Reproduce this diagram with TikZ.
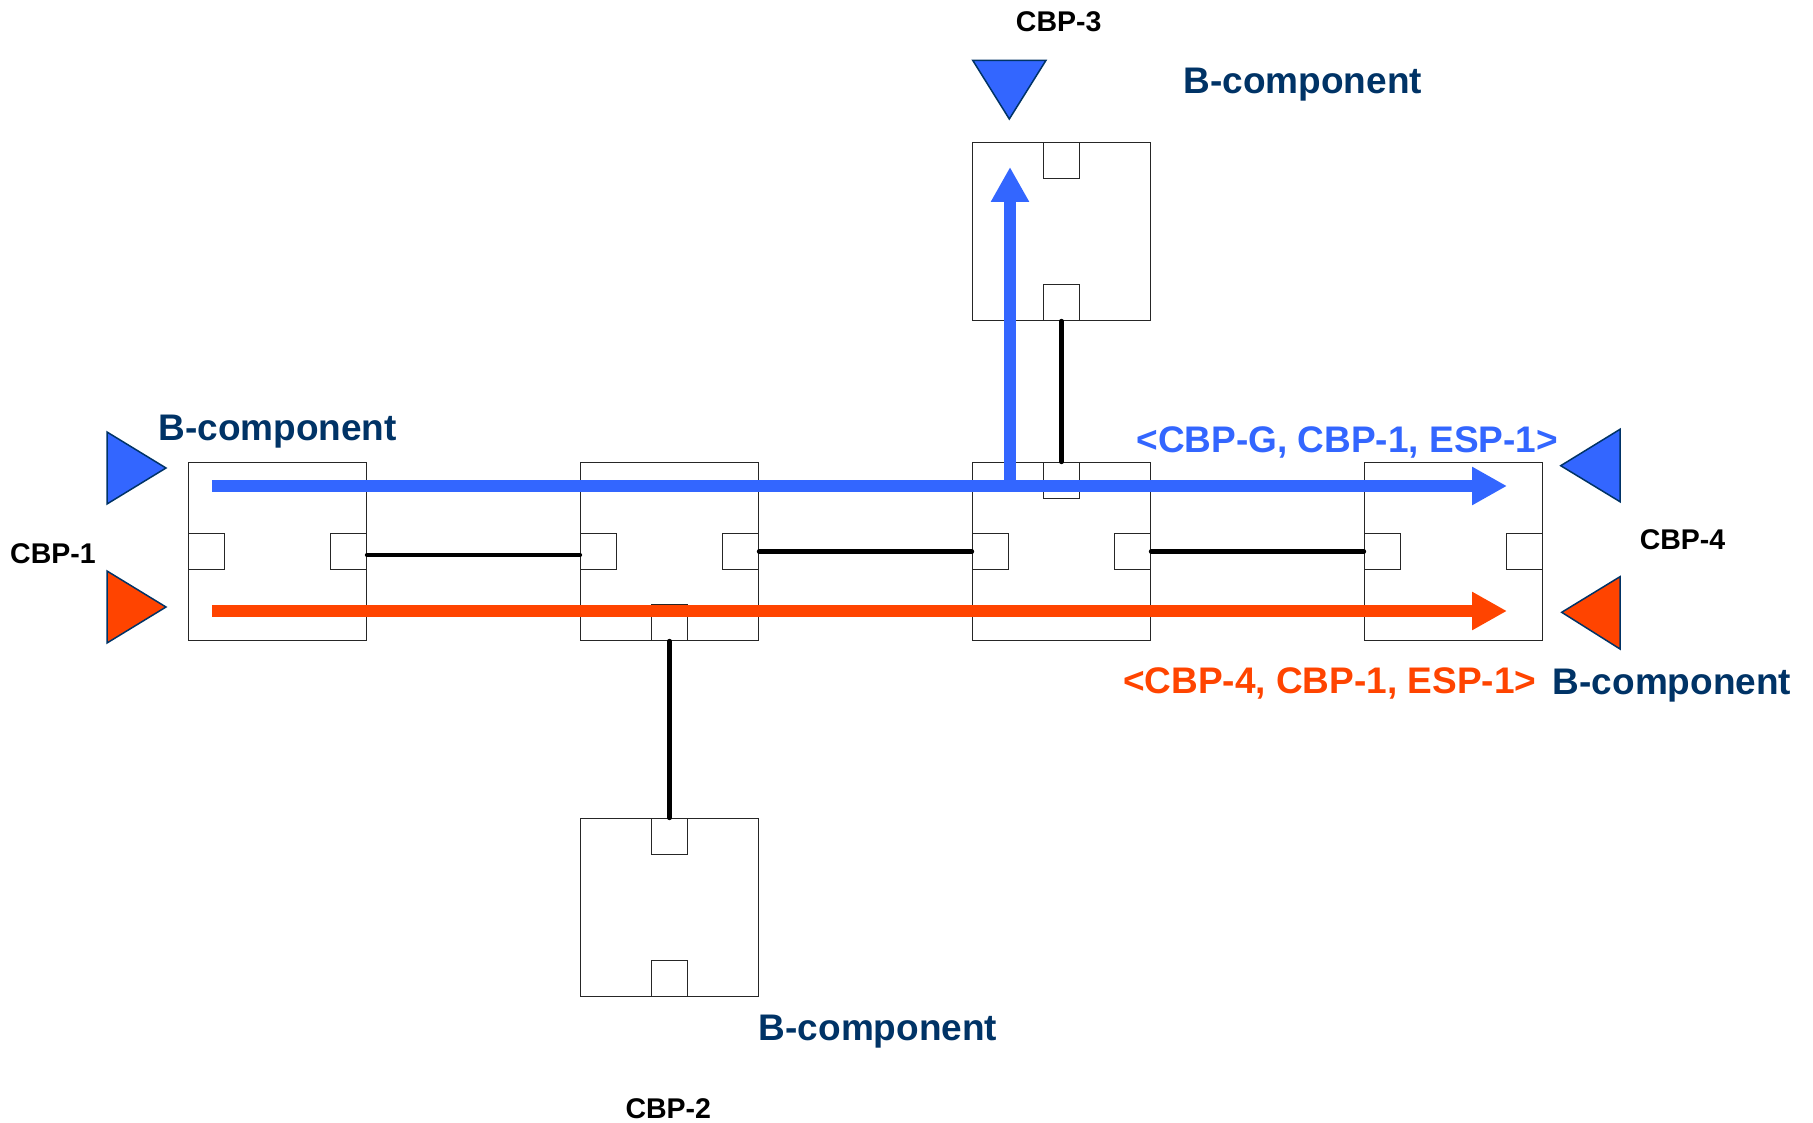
\documentclass[tikz,border=0pt]{standalone}
\usepackage{xcolor}
\usepackage{fontspec}
\setmainfont{Liberation Sans}
\usepackage{tikz}
\usetikzlibrary{arrows.meta}
\definecolor{pathblue}{RGB}{51,102,255}
\definecolor{pathorange}{RGB}{255,68,0}
\definecolor{navy}{RGB}{0,51,102}
\tikzstyle{bridge} = [rectangle, draw=black!85, line width=1.2pt, minimum size=178pt, inner sep=0pt]
\tikzstyle{port} = [rectangle, draw=black!85, line width=1.2pt, minimum size=36pt, inner sep=0pt]
\tikzstyle{link} = [line width=4.5pt, line cap=round]
\tikzstyle{flow} = [line width=12pt, -{Triangle[length=35pt,width=36pt]}]
\tikzstyle{sap} = [draw=navy, line width=1.5pt]
\tikzstyle{cbp} = [font=\fontsize{28.5}{34}\selectfont\bfseries, anchor=base]
\tikzstyle{bcomp} = [text=navy, font=\fontsize{37}{44}\selectfont\bfseries, anchor=base]
\tikzstyle{tag} = [font=\fontsize{37}{44}\selectfont\bfseries, anchor=base]

\begin{document}
\begin{tikzpicture}[x=1pt, y=-1pt, node distance=392pt]
\useasboundingbox (0,0) rectangle (1813,1123);

\node (box1) [bridge] at (277.5,551.5) {};
\node (box2) [bridge, right of=box1] {};
\node (box3) [bridge, right of=box2] {};
\node (box4) [bridge, right of=box3] {};
\node (boxtop) [bridge, above of=box3, node distance=320pt] {};
\node (boxbot) [bridge, below of=box2, node distance=356pt] {};

\node (p1w) [port, anchor=west] at (box1.west) {};
\node (p1e) [port, anchor=east] at (box1.east) {};
\node (p2w) [port, anchor=west] at (box2.west) {};
\node (p2e) [port, anchor=east] at (box2.east) {};
\node (p2s) [port, anchor=south] at (box2.south) {};
\node (p3w) [port, anchor=west] at (box3.west) {};
\node (p3e) [port, anchor=east] at (box3.east) {};
\node (p3n) [port, anchor=north] at (box3.north) {};
\node (p4w) [port, anchor=west] at (box4.west) {};
\node (p4e) [port, anchor=east] at (box4.east) {};
\node (ptn) [port, anchor=north] at (boxtop.north) {};
\node (pts) [port, anchor=south] at (boxtop.south) {};
\node (pbn) [port, anchor=north] at (boxbot.north) {};
\node (pbs) [port, anchor=south] at (boxbot.south) {};

\draw [link] ([yshift=-3.5pt]p1e.east) -- ([yshift=-3.5pt]p2w.west);
\draw [link] (p2e) -- (p3w);
\draw [link] (p3e) -- (p4w);
\draw [link] (p3n) -- (pts);
\draw [link] (p2s) -- (pbn);

\coordinate (bluein) at (212,486);
\coordinate (blueout) at (1507,486);
\coordinate (blueup) at (1010,486);
\coordinate (bluetop) at (1010,167);
\coordinate (orangein) at (212,611);
\coordinate (orangeout) at (1507,611);

\draw [flow, pathblue] (blueup) -- (bluetop);
\draw [flow, pathblue] (bluein) -- (blueout);
\draw [flow, pathorange] (orangein) -- (orangeout);

\filldraw [sap, fill=pathblue] (107,432) -- (107,504) -- (166,468) -- cycle;
\filldraw [sap, fill=pathorange] (107,571) -- (107,643) -- (166,607) -- cycle;
\filldraw [sap, fill=pathblue] (972.7,60.3) -- (1046,60.3) -- (1009.3,119) -- cycle;
\filldraw [sap, fill=pathblue] (1620,429.3) -- (1620,501.7) -- (1560.7,465.7) -- cycle;
\filldraw [sap, fill=pathorange] (1620,576.7) -- (1620,649) -- (1561.7,612.3) -- cycle;

\node (cbp1) [cbp] at (53,563) {CBP-1};
\node (cbp2) [cbp] at (668.3,1118.4) {CBP-2};
\node (cbp3) [cbp] at (1058.7,31.7) {CBP-3};
\node (cbp4) [cbp] at (1682.5,549) {CBP-4};

\node (bc1) [bcomp] at (277.7,440.7) {B-component};
\node (bc2) [bcomp] at (878,1040.6) {B-component};
\node (bc3) [bcomp] at (1302.7,93.3) {B-component};
\node (bc4) [bcomp] at (1672,694.3) {B-component};

\node (tagblue) [tag, text=pathblue] at (1347.2,452.3) {<CBP-G, CBP-1, ESP-1>};
\node (tagorange) [tag, text=pathorange] at (1329.7,693.3) {<CBP-4, CBP-1, ESP-1>};
\end{tikzpicture}
\end{document}
